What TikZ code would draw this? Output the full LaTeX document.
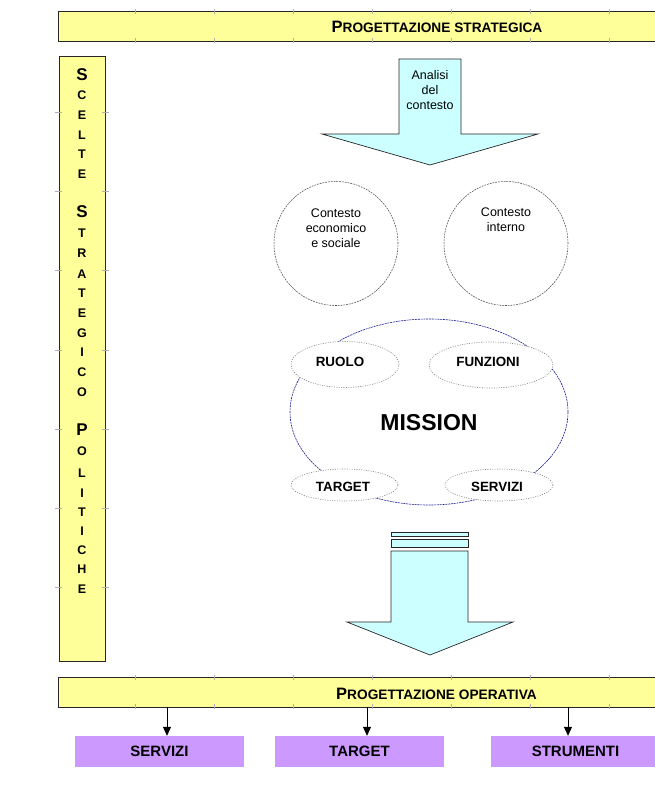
\documentclass[tikz,border=0pt]{standalone}
\usepackage{fontspec}
\setmainfont{Liberation Sans}
\usetikzlibrary{arrows.meta,shapes.geometric,calc}
\definecolor{ylw}{HTML}{FFFF99}
\definecolor{cyn}{HTML}{CCFFFF}
\definecolor{prp}{HTML}{CC99FF}
\definecolor{gridc}{HTML}{B0B0B0}
\definecolor{navyc}{HTML}{1A1A8C}
\newcommand{\fsz}[1]{\fontsize{#1}{#1}\selectfont}
\newcommand{\scP}[1]{{\fsz{16.5}P}{\fsz{13.7}#1}}
\begin{document}
\begin{tikzpicture}[x=1pt,y=-1pt,
  barbox/.style={draw=black!85,line width=0.8pt,fill=ylw,inner sep=0pt,rectangle},
  gridtick/.style={draw=gridc,line width=0.5pt},
  cyanshape/.style={draw=black!85,line width=0.7pt,fill=cyn},
  ctxcircle/.style={circle,draw=black!70,line width=0.55pt,dash pattern=on 1.8pt off 1pt,minimum size=124pt,inner sep=0pt},
  smallell/.style={ellipse,draw=black!50,line width=0.6pt,dash pattern=on 1pt off 1.4pt,fill=white,inner sep=0pt},
  lbl/.style={font=\bfseries\fsz{13.4},inner sep=0pt},
  ctx/.style={font=\fontsize{12.5}{15}\selectfont,align=center,inner sep=0pt},
  outbox/.style={rectangle,fill=prp,minimum width=169pt,minimum height=31pt,inner sep=0pt,font=\bfseries\fsz{15}},
  arr/.style={draw=black,line width=0.8pt,-{Triangle[width=8pt,length=9pt]}}
]
\useasboundingbox (0,0) rectangle (654,803);

% top bar
\node[barbox,minimum width=602pt,minimum height=30pt] (topbar) at (359,26) {};
\foreach \gx in {135,214,293,372,451,530,609}{
  \draw[gridtick] (\gx,9) -- (\gx,14);
  \draw[gridtick] (\gx,38) -- (\gx,43);
}
\node[font=\bfseries,inner sep=0pt] (toptext) at (437,27) {\scP{ROGETTAZIONE STRATEGICA}};

% left bar
\node[barbox,minimum width=46pt,minimum height=605pt] (leftbar) at (82,358.5) {};
\foreach \gy in {112,191,270,350,429,508,587}{
  \draw[gridtick] (55,\gy) -- (62,\gy);
  \draw[gridtick] (102,\gy) -- (109,\gy);
}
\foreach \ch/\yy/\sz [count=\i] in {S/75/17,C/95/12.5,E/115/12.5,L/135/12.5,T/154/12.5,E/174/12.5,
  S/212/17,T/233/12.5,R/253/12.5,A/274/12.5,T/293/12.5,E/313/12.5,G/333/12.5,I/352/12.5,C/372/12.5,O/392/12.5,
  P/430/17,O/451/12.5,L/473/12.5,I/493/12.5,T/512/12.5,I/531/12.5,C/550/12.5,H/569/12.5,E/589/12.5}{
  \node[font=\bfseries\fsz{\sz},inner sep=0pt] (let\i) at (82,\yy) {\ch};
}

% top arrow
\draw[cyanshape] (399,59) -- (461,59) -- (461,134) -- (538,134) -- (430,165) -- (322,134) -- (399,134) -- cycle;
\node[ctx] (analisi) at (430,90.5) {Analisi\\del\\contesto};

% context circles
\node[ctxcircle] (cext) at (336,243.5) {};
\node[ctxcircle] (cint) at (506,243.5) {};
\node[ctx] (cexttxt) at (336,228) {Contesto\\economico\\e sociale};
\node[ctx] (cinttxt) at (506,220) {Contesto\\interno};

% mission
\node[ellipse,draw=navyc,line width=0.6pt,dash pattern=on 2pt off 0.8pt,minimum width=278pt,minimum height=186pt,inner sep=0pt] (mission) at (429,412) {};
\node[smallell,minimum width=108pt,minimum height=46pt] (eruolo) at (345,364.5) {};
\node[smallell,minimum width=124pt,minimum height=46pt] (efunz) at (491,365) {};
\node[smallell,minimum width=107pt,minimum height=32pt] (etarget) at (344.5,485) {};
\node[smallell,minimum width=108pt,minimum height=32pt] (eserv) at (499,485) {};
\node[lbl] (truolo) at (340,362) {RUOLO};
\node[lbl] (tfunz) at (488,362) {FUNZIONI};
\node[lbl] (ttarget) at (343,487) {TARGET};
\node[lbl] (tserv) at (497,487) {SERVIZI};
\node[font=\bfseries\fsz{23},inner sep=0pt] (tmission) at (429,423) {MISSION};

% bottom arrow
\draw[cyanshape] (391,532) rectangle (468,536);
\draw[cyanshape] (391,539) rectangle (468,547);
\draw[cyanshape] (391,551) -- (468,551) -- (468,622) -- (513,622) -- (430,655) -- (347,622) -- (391,622) -- cycle;

% bottom bar
\node[barbox,minimum width=602pt,minimum height=30pt] (botbar) at (359,692) {};
\foreach \gx in {135,214,293,372,451,530,609}{
  \draw[gridtick] (\gx,675) -- (\gx,680);
  \draw[gridtick] (\gx,704) -- (\gx,709);
}
\node[font=\bfseries,inner sep=0pt] (bottext) at (436.5,694) {\scP{ROGETTAZIONE OPERATIVA}};

% output boxes
\node[outbox] (bserv) at (159.5,751.5) {SERVIZI};
\node[outbox] (btarget) at (359.5,751.5) {TARGET};
\node[outbox] (bstrum) at (575.5,751.5) {STRUMENTI};

\coordinate (a1) at (167,707);
\coordinate (a2) at (367,707);
\coordinate (a3) at (568,707);
\draw[arr] (a1) -- (a1 |- bserv.north);
\draw[arr] (a2) -- (a2 |- btarget.north);
\draw[arr] (a3) -- (a3 |- bstrum.north);
\end{tikzpicture}
\end{document}
